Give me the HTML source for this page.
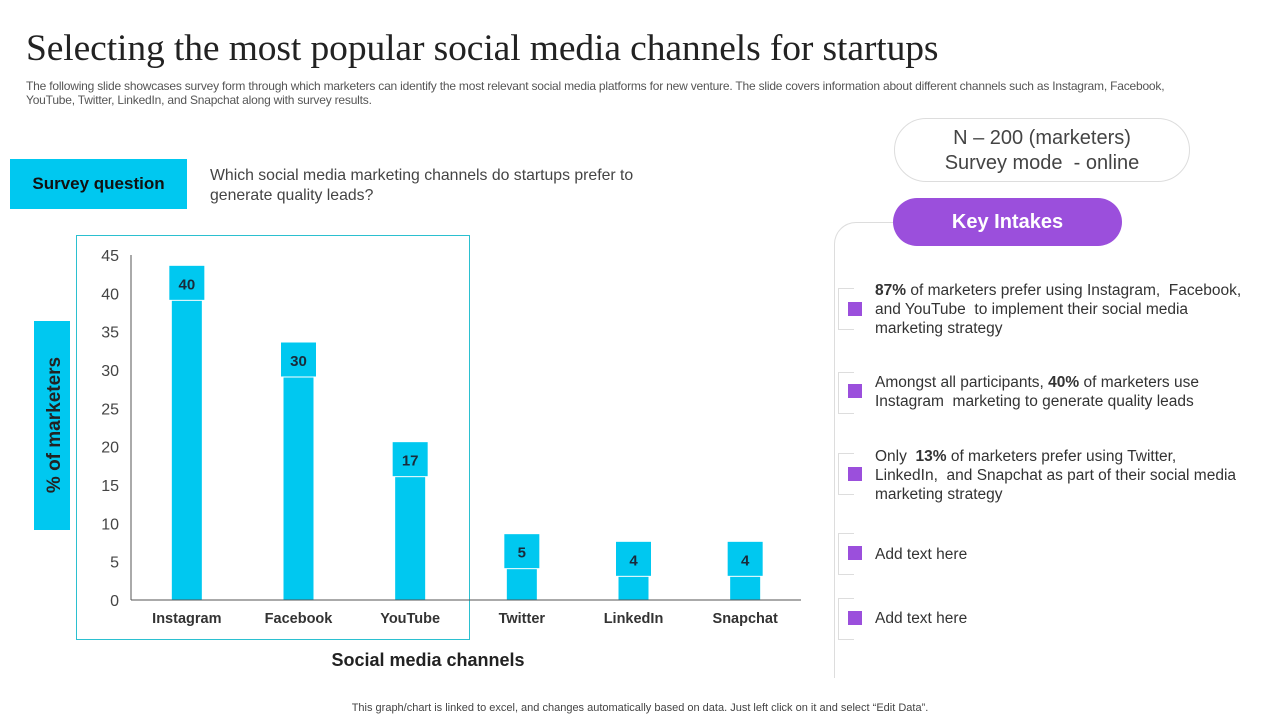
<!DOCTYPE html>
<html><head><meta charset="utf-8">
<style>
body{margin:0;width:1280px;height:720px;background:#fff;font-family:"Liberation Sans",sans-serif;position:relative;overflow:hidden;color:#333}
.abs{position:absolute}
h1{position:absolute;left:26px;top:27px;margin:0;font-family:"Liberation Serif",serif;font-weight:normal;font-size:37.5px;color:#222;letter-spacing:-0.1px;white-space:nowrap}
.sub{left:26px;top:79px;width:1240px;font-size:12px;line-height:14px;color:#555;letter-spacing:-0.2px;white-space:nowrap}
.sq{left:10px;top:159px;width:177px;height:50px;background:#00c8f0;color:#111;font-weight:bold;font-size:17px;display:flex;align-items:center;justify-content:center}
.qt{left:210px;top:166px;width:440px;font-size:15.8px;line-height:20px;color:#444}
.nbox{left:894px;top:118px;width:296px;height:64px;border:1px solid #ddd;border-radius:32px;text-align:center;font-size:20px;line-height:25px;color:#444;box-sizing:border-box;padding-top:7px}
.key{left:893px;top:198px;width:229px;height:48px;background:#9b4fdc;border-radius:24px;color:#fff;font-weight:bold;font-size:20px;display:flex;align-items:center;justify-content:center}
.item{left:875px;font-size:15.5px;line-height:19px;color:#333;width:375px}
.sqm{left:848px;width:14px;height:14px;background:#9b4fdc}
.brk{left:838px;width:15px;border:1px solid #ddd;border-right:none}
.ylab{left:34px;top:321px;width:36px;height:209px;background:#00c8f0}
.foot{left:0;width:1280px;top:702px;text-align:center;font-size:11px;color:#444}
</style></head><body>
<h1>Selecting the most popular social media channels for startups</h1>
<div class="abs sub">The following slide showcases survey form through which marketers can identify the most relevant social media platforms for new venture. The slide covers information about different channels such as Instagram, Facebook,<br>YouTube, Twitter, LinkedIn, and Snapchat along with survey results.</div>
<div class="abs sq">Survey question</div>
<div class="abs qt">Which social media marketing channels do startups prefer to generate quality leads?</div>
<div class="abs nbox">N – 200 (marketers)<br>Survey mode &nbsp;- online</div>
<div class="abs" style="left:834px;top:222px;width:58px;height:455px;border-left:1px solid #ddd;border-top:1px solid #ddd;border-top-left-radius:22px"></div>
<div class="abs key">Key Intakes</div>

<div class="abs brk" style="top:288px;height:40px"></div>
<div class="abs sqm" style="top:302px"></div>
<div class="abs item" style="top:281px"><b>87%</b> of marketers prefer using Instagram, &nbsp;Facebook, and YouTube &nbsp;to implement their social media marketing strategy</div>
<div class="abs brk" style="top:372px;height:40px"></div>
<div class="abs sqm" style="top:384px"></div>
<div class="abs item" style="top:373px">Amongst all participants, <b>40%</b> of marketers use Instagram &nbsp;marketing to generate quality leads</div>
<div class="abs brk" style="top:453px;height:40px"></div>
<div class="abs sqm" style="top:467px"></div>
<div class="abs item" style="top:447px">Only &nbsp;<b>13%</b> of marketers prefer using Twitter,<br>LinkedIn, &nbsp;and Snapchat as part of their social media marketing strategy</div>
<div class="abs brk" style="top:533px;height:40px"></div>
<div class="abs sqm" style="top:546px"></div>
<div class="abs item" style="top:545px">Add text here</div>
<div class="abs brk" style="top:598px;height:40px"></div>
<div class="abs sqm" style="top:611px"></div>
<div class="abs item" style="top:609px">Add text here</div>

<div class="abs ylab"></div>
<div class="abs" style="left:76px;top:235px;width:392px;height:403px;border:1px solid #2bc0d0"></div>
<svg class="abs" style="left:0;top:0" width="1280" height="720" id="chart">
<text x="0" y="0" transform="translate(60,425) rotate(-90)" text-anchor="middle" font-size="19" font-weight="bold" fill="#222">% of marketers</text>
<text x="428" y="666" text-anchor="middle" font-size="18" font-weight="bold" fill="#222">Social media channels</text>
</svg>
<div class="abs foot">This graph/chart is linked to excel, and changes automatically based on data. Just left click on it and select “Edit Data”.</div>
<script>
const categories=["Instagram","Facebook","YouTube","Twitter","LinkedIn","Snapchat"];
const values=[40,30,17,5,4,4];
const yTicks=[0,5,10,15,20,25,30,35,40,45];
const svg=document.getElementById('chart');
const NS='http://www.w3.org/2000/svg';
const y0=600,yTop=255,yMax=45,x0=131,xEnd=801;
const band=(xEnd-x0)/categories.length;
function yS(v){return y0-(v/yMax)*(y0-yTop);}
function xS(i){return x0+band*(i+0.5);}
function mk(t,a){const e=document.createElementNS(NS,t);for(const k in a)e.setAttribute(k,a[k]);svg.appendChild(e);return e;}
yTicks.forEach(t=>{const e=mk('text',{x:119,y:yS(t)+6,'text-anchor':'end','font-size':16,fill:'#444'});e.textContent=t;

});
values.forEach((v,i)=>{const cx=xS(i);
const b=mk('rect',{x:cx-15,y:yS(v),width:30,height:y0-yS(v),fill:'#00c8f0'});


const bx=mk('rect',{x:cx-18,y:yS(v)-28,width:36,height:35,fill:'#00c8f0',stroke:'#fff','stroke-width':1});


const t=mk('text',{x:cx,y:yS(v)-4,'text-anchor':'middle','font-size':15,'font-weight':'bold',fill:'#1a2a3a'});t.textContent=v;


const c=mk('text',{x:cx,y:623,'text-anchor':'middle','font-size':14.5,'font-weight':'bold',fill:'#333'});c.textContent=categories[i];

});
const ya=mk('line',{x1:x0,y1:y0,x2:x0,y2:yTop,stroke:'#555','stroke-width':1});


const xa=mk('line',{x1:x0,y1:y0,x2:xEnd,y2:y0,stroke:'#555','stroke-width':1});


</script>
</body></html>
